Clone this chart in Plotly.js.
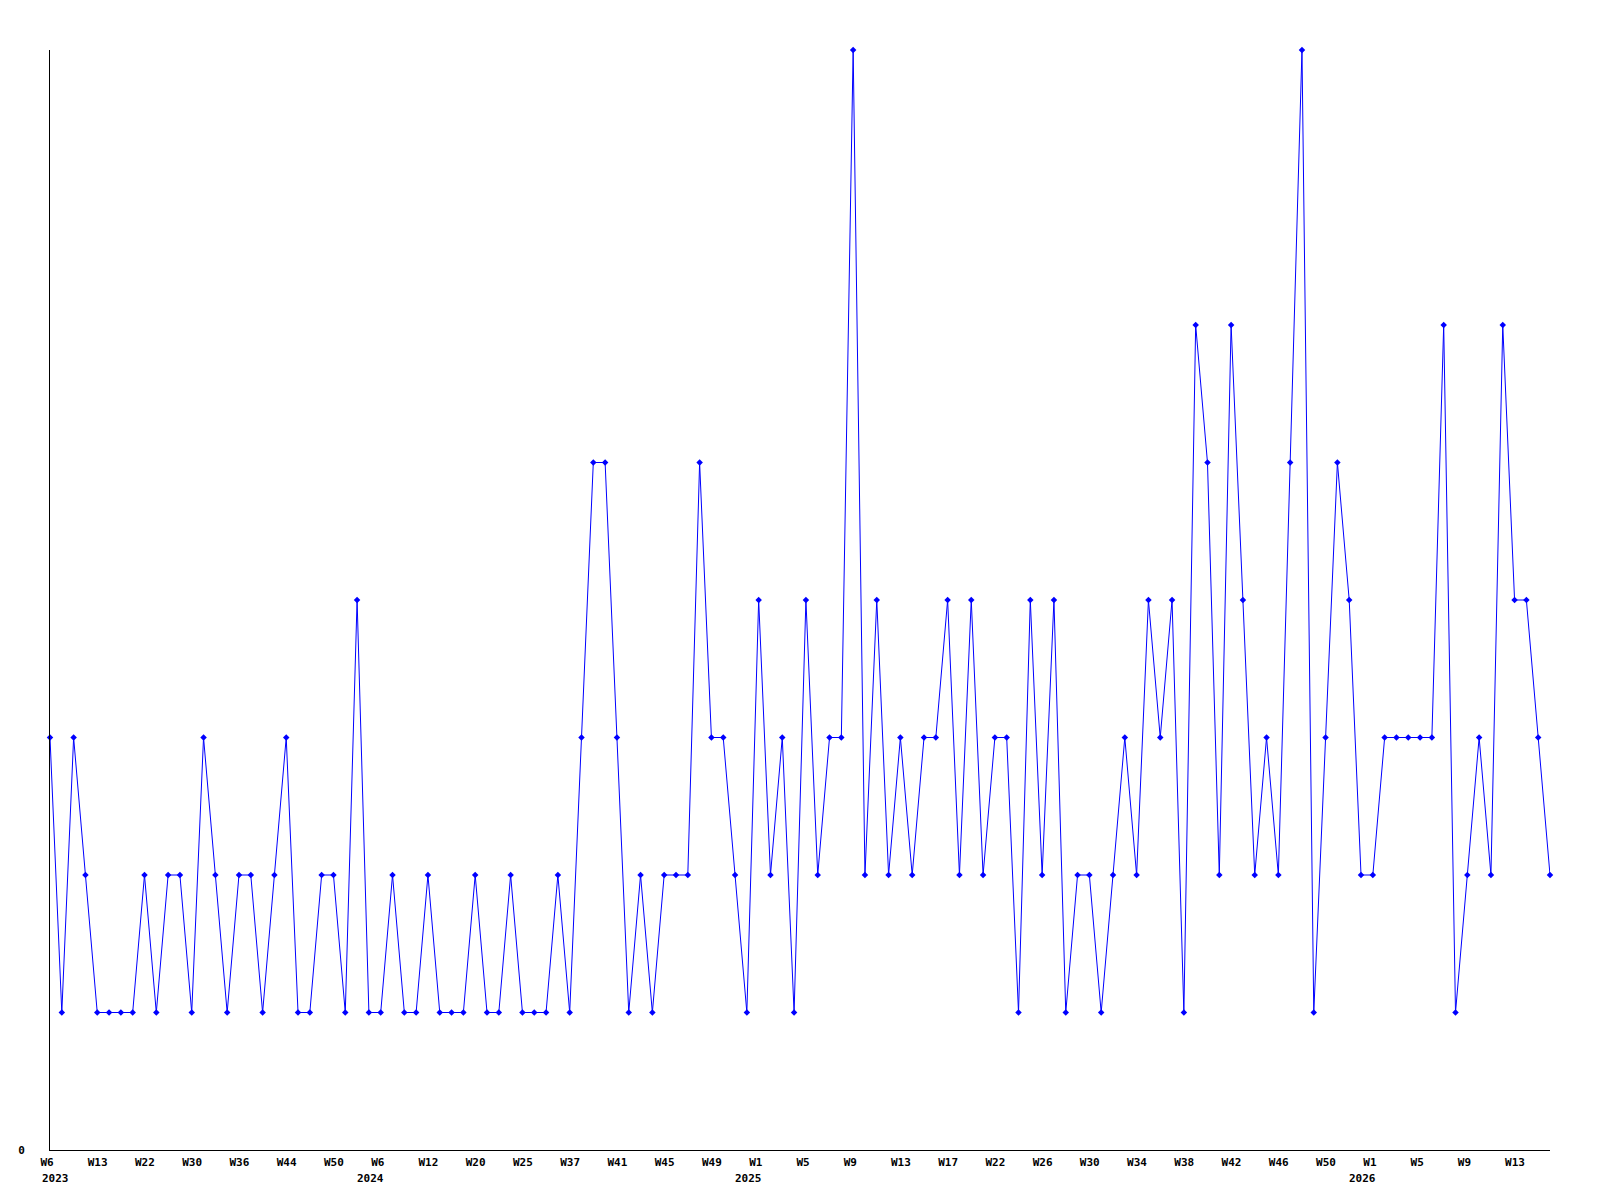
<!DOCTYPE html>
<html>
<head>
<meta charset="utf-8">
<script src="https://cdn.plot.ly/plotly-3.0.1.min.js"></script>
<style>
  html, body { margin: 0; padding: 0; background: #ffffff; }
  #chart { width: 1600px; height: 1200px; }
</style>
</head>
<body>
<div id="chart"></div>
<script>
// Weekly values (one point per week that has data)
const values = [
  3, 1, 3, 2, 1, 1, 1, 1, 2, 1, 2, 2, 1, 3, 2, 1,
  2, 2, 1, 2, 3, 1, 1, 2, 2, 1, 4, 1, 1, 2, 1, 1,
  2, 1, 1, 1, 2, 1, 1, 2, 1, 1, 1, 2, 1, 3, 5, 5,
  3, 1, 2, 1, 2, 2, 2, 5, 3, 3, 2, 1, 4, 2, 3, 1,
  4, 2, 3, 3, 8, 2, 4, 2, 3, 2, 3, 3, 4, 2, 4, 2,
  3, 3, 1, 4, 2, 4, 1, 2, 2, 1, 2, 3, 2, 4, 3, 4,
  1, 6, 5, 2, 6, 4, 2, 3, 2, 5, 8, 1, 3, 5, 4, 2,
  2, 3, 3, 3, 3, 3, 6, 1, 2, 3, 2, 6, 4, 4, 3, 2
];

// Week tick labels, shown on every 4th point
const weekLabels = [
  "W6", "W13", "W22", "W30", "W36", "W44", "W50",
  "W6", "W12", "W20", "W25", "W37", "W41", "W45", "W49",
  "W1", "W5", "W9", "W13", "W17", "W22", "W26", "W30", "W34", "W38", "W42", "W46", "W50",
  "W1", "W5", "W9", "W13"
];
const tickStep = 4;

// Year labels: text and the week-label slot they sit under
const yearTexts = ["2023", "2024", "2025", "2026"];
const yearSlots = [0, 7, 15, 28];

const yMax = 8;

const xs = values.map((_, i) => i);
const tickvals = weekLabels.map((_, i) => i * tickStep);

const labelFont = { family: "DejaVu Sans Mono, Liberation Mono, monospace", size: 11, color: "#000000", weight: "bold" };

const trace = {
  type: "scatter",
  mode: "lines+markers",
  x: xs,
  y: values,
  line: { color: "#0000ff", width: 1 },
  marker: { color: "#0000ff", size: 5, symbol: "diamond", line: { width: 0 } },
  hoverinfo: "x+y",
  cliponaxis: false,
  showlegend: false
};

const annotations = yearTexts.map((t, k) => ({
  text: t,
  x: yearSlots[k] * tickStep,
  xref: "x",
  y: 0,
  yref: "paper",
  xanchor: k === 0 ? "left" : "center",
  yanchor: "top",
  xshift: -10,
  yshift: -20,
  showarrow: false,
  font: labelFont
}));

const layout = {
  width: 1600,
  height: 1200,
  margin: { l: 50, r: 50, t: 50, b: 50, pad: 0 },
  paper_bgcolor: "#ffffff",
  plot_bgcolor: "#ffffff",
  showlegend: false,
  xaxis: {
    type: "linear",
    range: [0, values.length - 1],
    showgrid: false,
    zeroline: false,
    showline: true,
    linecolor: "#000000",
    linewidth: 1,
    ticks: "",
    tickmode: "array",
    tickvals: tickvals,
    ticktext: weekLabels,
    ticklabelposition: "outside right",
    ticklabelshift: -10,
    ticklabelstandoff: 2,
    tickfont: labelFont,
    fixedrange: true
  },
  yaxis: {
    range: [0, yMax],
    showgrid: false,
    zeroline: false,
    showline: true,
    linecolor: "#000000",
    linewidth: 1,
    ticks: "",
    tickmode: "array",
    tickvals: [0],
    ticktext: ["0"],
    ticklabelstandoff: 22,
    tickfont: labelFont,
    fixedrange: true
  },
  annotations: annotations
};

Plotly.newPlot("chart", [trace], layout, { displayModeBar: false, staticPlot: true });
</script>
</body>
</html>
